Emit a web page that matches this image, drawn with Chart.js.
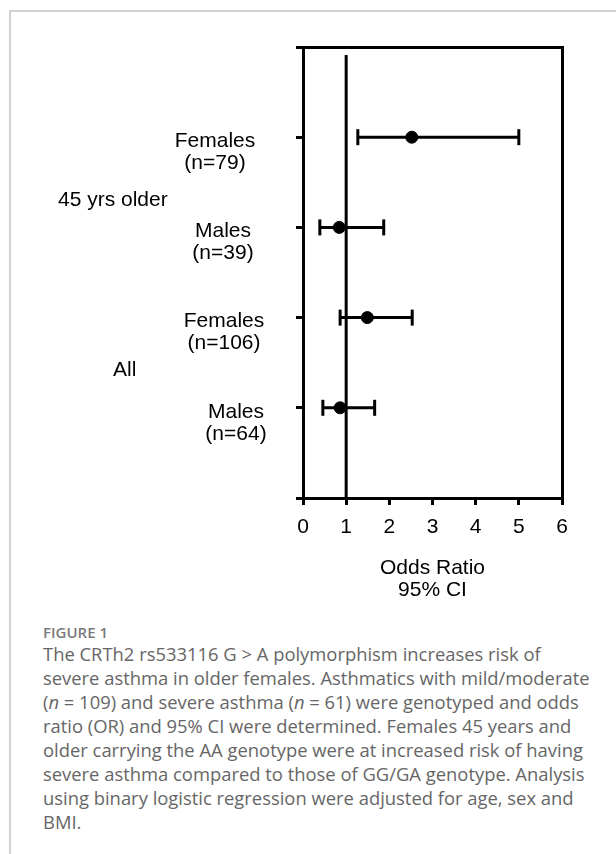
<!DOCTYPE html>
<html>
<head>
<meta charset="utf-8">
<script src="https://cdn.jsdelivr.net/npm/chart.js@4.4.0/dist/chart.umd.min.js"></script>
<style>
  body { margin: 0; background: #fff; width: 616px; height: 854px; overflow: hidden; position: relative; }
  #frame { position: absolute; left: 9px; top: 10px; right: -10px; bottom: -10px; border-top: 2px solid #d3d3d3; border-left: 2px solid #d3d3d3; }
  #wrap { position: absolute; left: 0; top: 0; width: 616px; height: 610px; }
  #fig { position: absolute; left: 43px; top: 622px; font: 600 15px "Open Sans", sans-serif; color: #7a7a7a; }
  #cap { position: absolute; left: 43px; top: 642px; font: 18.4px "Open Sans", sans-serif; color: #666; line-height: 24px; white-space: nowrap; }
</style>
</head>
<body>
<div id="frame"></div>
<div id="wrap"><canvas id="graph"></canvas></div>
<div id="fig">FIGURE 1</div>
<div id="cap">The CRTh2 rs533116 G &gt; A polymorphism increases risk of<br>severe asthma in older females. Asthmatics with mild/moderate<br>(<i>n</i> = 109) and severe asthma (<i>n</i> = 61) were genotyped and odds<br>ratio (OR) and 95% CI were determined. Females 45 years and<br>older carrying the AA genotype were at increased risk of having<br>severe asthma compared to those of GG/GA genotype. Analysis<br>using binary logistic regression were adjusted for age, sex and<br>BMI.</div>
<script>
// data
const sexLabels = ['Females', 'Males', 'Females', 'Males'];
const nLabels = ['(n=79)', '(n=39)', '(n=106)', '(n=64)'];
const rowPos = [4, 3, 2, 1];
const oddsRatio = [2.52, 0.84, 1.49, 0.86];
const ciLow = [1.27, 0.39, 0.86, 0.46];
const ciHigh = [5.0, 1.87, 2.53, 1.66];
const groupLabels = ['45 yrs older', 'All'];
const groupPos = [3.3, 1.42];
const xTitle = ['Odds Ratio', '95% CI'];

const FONT = '"Liberation Sans", Arial, sans-serif';

// left side labels
const labelPlugin = {
  id: 'rowLabels',
  afterDraw(chart) {
    const ctx = chart.ctx;
    const y = chart.scales.y;
    const cx = [215, 223, 224, 236]; // label centres
    ctx.save();
    ctx.fillStyle = '#000';
    ctx.font = '21px ' + FONT;
    ctx.textBaseline = 'middle';
    ctx.textAlign = 'center';
    rowPos.forEach(function (r, i) {
      const py = y.getPixelForValue(r);
      ctx.fillText(sexLabels[i], cx[i], py + 4);
      ctx.fillText(nLabels[i], cx[i], py + 26);
    });
    ctx.textAlign = 'left';
    const gx = [58, 113];
    groupLabels.forEach(function (g, i) {
      ctx.fillText(g, gx[i], y.getPixelForValue(groupPos[i]));
    });
    ctx.restore();
  }
};

const datasets = [];
// reference line at OR = 1
datasets.push({
  type: 'line',
  data: [{x: 1, y: 0}, {x: 1, y: 4.91}],
  borderColor: '#000',
  borderWidth: 3,
  pointRadius: 0
});
// confidence intervals with caps
rowPos.forEach(function (r, i) {
  datasets.push({
    type: 'line',
    data: [{x: ciLow[i], y: r}, {x: ciHigh[i], y: r}],
    borderColor: '#000',
    borderWidth: 3,
    pointStyle: 'line',
    rotation: 90,
    pointRadius: 8,
    pointBorderWidth: 3,
    pointBorderColor: '#000'
  });
});
// odds ratio points
datasets.push({
  type: 'scatter',
  data: rowPos.map(function (r, i) { return {x: oddsRatio[i], y: r}; }),
  backgroundColor: '#000',
  borderColor: '#000',
  pointRadius: 6
});

new Chart(document.getElementById('graph'), {
  data: { datasets: datasets },
  plugins: [labelPlugin],
  options: {
    responsive: true,
    maintainAspectRatio: false,
    animation: false,
    layout: { padding: 0 },
    plugins: { legend: { display: false }, tooltip: { enabled: false } },
    scales: {
      x: {
        type: 'linear',
        position: 'bottom',
        min: 0,
        max: 6,
        ticks: { stepSize: 1, color: '#000', font: { family: FONT, size: 21 }, padding: 10, maxRotation: 0 },
        grid: { drawOnChartArea: false, color: '#000', lineWidth: 3, tickLength: 7 },
        border: { color: '#000', width: 3 },
        title: { display: true, text: xTitle, color: '#000', font: { family: FONT, size: 21, lineHeight: 1.05 }, padding: { top: 0, bottom: 9 } },
        afterFit: function (s) { s.height = 112; }
      },
      x2: {
        type: 'linear',
        position: 'top',
        min: 0,
        max: 6,
        ticks: { display: false },
        grid: { display: false },
        border: { color: '#000', width: 3 },
        afterFit: function (s) { s.height = 47; }
      },
      y: {
        type: 'linear',
        position: 'left',
        min: 0,
        max: 5,
        ticks: { stepSize: 1, display: false },
        grid: { drawOnChartArea: false, color: '#000', lineWidth: 3, tickLength: 7 },
        border: { color: '#000', width: 3 },
        afterFit: function (s) { s.width = 303; }
      },
      y2: {
        type: 'linear',
        position: 'right',
        min: 0,
        max: 5,
        ticks: { display: false },
        grid: { display: false },
        border: { color: '#000', width: 3 },
        afterFit: function (s) { s.width = 54; }
      }
    }
  }
});
</script>
</body>
</html>
